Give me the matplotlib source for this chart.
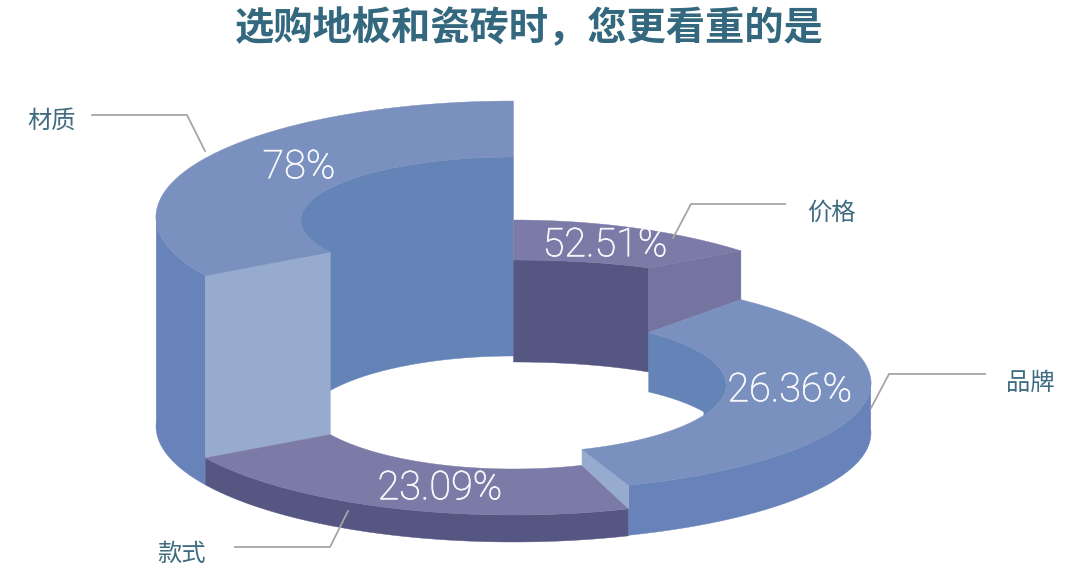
import numpy as np
import matplotlib
matplotlib.use("Agg")
import matplotlib.pyplot as plt
import matplotlib.patheffects as pe

title = "选购地板和瓷砖时，您更看重的是"
categories = ["价格", "品牌", "款式", "材质"]
values = [52.51, 26.36, 23.09, 78]
value_texts = ["52.51%", "26.36%", "23.09%", "78%"]
# Angular extent of each ring segment, degrees clockwise from 12 o'clock
spans = [39.5, 121.7, 78.3, 120.5]
edges = np.concatenate([[0], np.cumsum(spans)])

CX, RO, RI = 513.5, 357.5, 212.5
# projected ellipses of each segment: (centre y, y radius)
top_outer = [(355, 135), (383, 108), (399, 116), (217, 116)]
top_inner = [(295, 35), (385, 68), (399, 70), (220, 63)]
base_outer = [(433, 108), (433, 108), (426, 116), (426, 116)]
base_inner = [(406, 44), (439, 61), (426, 70), (426, 70)]

C_BIG_TOP, C_BLUE_IN, C_BLUE_OUT, C_LIGHT = "#7a90be", "#6483b7", "#6783b9", "#97abcf"
C_PUR_TOP, C_PUR_DARK, C_PUR_CUT = "#7c7ba8", "#565682", "#7573a0"
C_TEXT, C_TITLE, C_LINE = "#3f6c80", "#33687e", "#a6a6a6"

label_pos = [(831, 213), (1030, 383), (181, 554), (52, 121)]
value_pos = [(605, 245), (790, 390), (440, 488), (299, 167)]
leaders = [[(785, 204), (691, 204), (673, 238)],
           [(985, 374), (889, 374), (871, 408)],
           [(235, 547), (330, 547), (348, 511)],
           [(92, 115), (187, 115), (205, 151)]]

plt.rcParams["font.family"] = ["Noto Sans CJK SC", "DejaVu Sans"]
fig = plt.figure(figsize=(10.8, 5.74), dpi=100)
ax = fig.add_axes([0, 0, 1, 1])
ax.set_xlim(0, 1080)
ax.set_ylim(574, 0)
ax.axis("off")


def arc(rx, ell, a, b, n=80):
    t = np.radians(np.linspace(a, b, n))
    return np.column_stack([CX + rx * np.sin(t), ell[0] - ell[1] * np.cos(t)])


def poly(pts, color):
    ax.fill(pts[:, 0], pts[:, 1], color=color, lw=0.3, ec=color)


def top(i, color):
    a, b = edges[i], edges[i + 1]
    poly(np.vstack([arc(RO, top_outer[i], a, b), arc(RI, top_inner[i], b, a)]), color)


def inner_wall(i, a_top, b_top, a_base, b_base, color):
    poly(np.vstack([arc(RI, top_inner[i], a_top, b_top),
                    arc(RI, base_inner[i], b_base, a_base)]), color)


def outer_wall(i, a, b, color):
    poly(np.vstack([arc(RO, top_outer[i], a, b), arc(RO, base_outer[i], b, a)]), color)


def cut(i, ang, lower_outer, lower_inner, color):
    poly(np.vstack([arc(RO, top_outer[i], ang, ang, 1), arc(RI, top_inner[i], ang, ang, 1),
                    arc(RI, lower_inner, ang, ang, 1), arc(RO, lower_outer, ang, ang, 1)]), color)


# tall segment: inner wall first
inner_wall(3, 270, 360, 270, 360, C_BLUE_IN)
# price segment
inner_wall(0, edges[0], edges[1], edges[0], edges[1], C_PUR_DARK)
cut(0, edges[1], top_outer[1], top_inner[1], C_PUR_CUT)
top(0, C_PUR_TOP)
# brand inner wall
inner_wall(1, edges[1], 116.4, edges[1], 63.6, C_BLUE_IN)
# tall segment outer parts
outer_wall(3, edges[3], 272, C_BLUE_OUT)
cut(3, edges[3], top_outer[2], top_inner[2], C_LIGHT)
top(3, C_BIG_TOP)
# style segment
outer_wall(2, edges[2], edges[3], C_PUR_DARK)
top(2, C_PUR_TOP)
# brand segment
outer_wall(1, 88, edges[2], C_BLUE_OUT)
cut(1, edges[2], top_outer[2], top_inner[2], C_LIGHT)
top(1, C_BIG_TOP)

for pts in leaders:
    p = np.array(pts)
    ax.plot(p[:, 0], p[:, 1], color=C_LINE, lw=1.3, solid_joinstyle="miter")

for name, pos in zip(categories, label_pos):
    ax.text(*pos, name, color=C_TEXT, fontsize=17.5, ha="center", va="center")
for txt, pos in zip(value_texts, value_pos):
    ax.text(*pos, txt, color="#f7f8fb", fontsize=28.5, ha="center", va="center",
            family=["Roboto", "DejaVu Sans"], weight="light",
            path_effects=[pe.withStroke(linewidth=0.5, foreground="#f7f8fb")])
ax.text(529, 29, title, color=C_TITLE, fontsize=28.3, weight="bold", ha="center", va="center")

fig.savefig("out.png", dpi=100)
